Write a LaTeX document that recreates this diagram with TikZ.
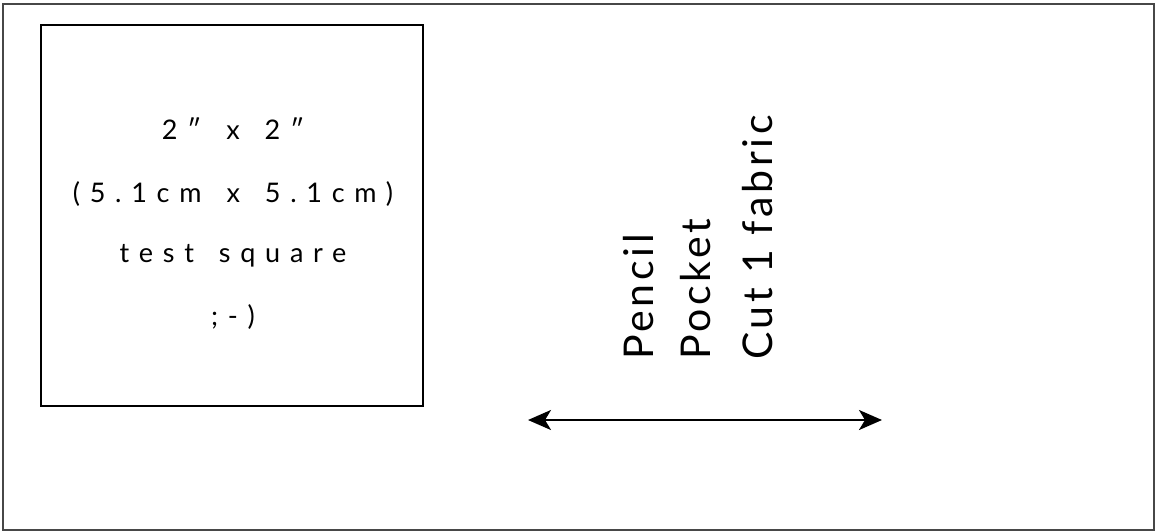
\documentclass[tikz,border=0pt]{standalone}
\usepackage{fontspec}
\setmainfont{Lato}
\usetikzlibrary{arrows.meta}
\newfontfamily\sqfont[LetterSpace=36,WordSpace=1.5]{Lato}
\newfontfamily\rotfont[LetterSpace=9]{Lato}
\begin{document}
\begin{tikzpicture}[x=1pt,y=-1pt,
  sqtext/.style={anchor=base, inner sep=0pt, font=\sqfont\fontsize{27}{30}\selectfont},
  rottext/.style={anchor=base west, rotate=90, inner sep=0pt, font=\rotfont\fontsize{41}{48}\selectfont},
  frameline/.style={draw=black!72, line width=2pt}]
\useasboundingbox (0,0) rectangle (1156,531);
\draw[frameline] (3,3.5) rectangle (1154,529.5);
\node[draw, line width=2.6pt, minimum width=382pt, minimum height=381pt, inner sep=0pt] (sq) at (232,215.5) {};
\node[sqtext] (l1) at (233,139) {2″ x 2″};
\node[sqtext] (l2) at (233,202) {(5.1cm x 5.1cm)};
\node[sqtext] (l3) at (233,262) {test square};
\node[sqtext] (l4) at (233,325) {;-)};
\node[rottext] (t1) at (653,360) {Pencil};
\node[rottext] (t2) at (710,360) {Pocket};
\node[rottext] (t3) at (772,360) {Cut 1 fabric};
\coordinate (al) at (528,420);
\coordinate (ar) at (882,420);
\draw[{Stealth[length=23pt,width=20pt,inset=6pt]}-{Stealth[length=23pt,width=20pt,inset=6pt]}, line width=2.2pt] (al) -- (ar);
\end{tikzpicture}
\end{document}
